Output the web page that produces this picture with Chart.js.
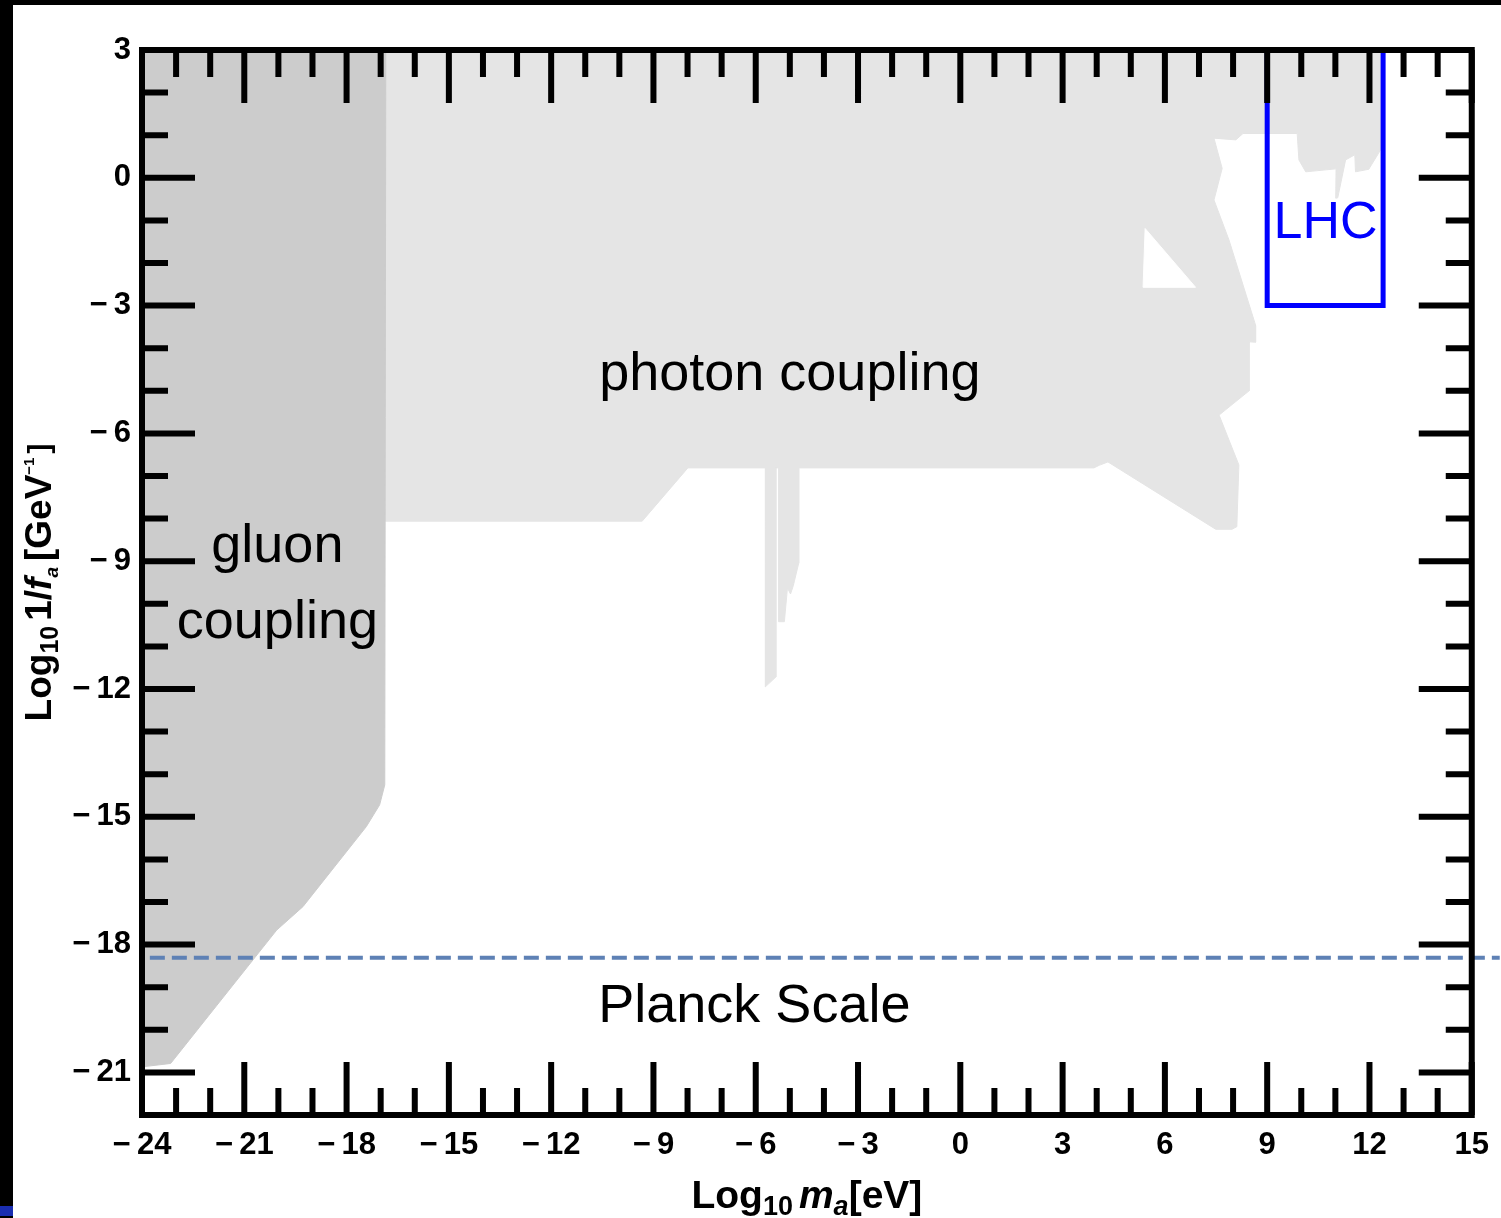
<!DOCTYPE html>
<html>
<head>
<meta charset="utf-8">
<script src="https://cdn.jsdelivr.net/npm/chart.js@4/dist/chart.umd.min.js"></script>
<style>
  html, body { margin: 0; padding: 0; background: #fff; }
  #wrap { position: relative; width: 1501px; height: 1218px; overflow: hidden; background: #fff; }
  #c { position: absolute; left: 0; top: 0; }
  .band { position: absolute; background: #000; }
  #topband { left: 0; top: 0; width: 1501px; height: 5px; }
  #leftband { left: 0; top: 0; width: 13px; height: 1218px; }
  #corner { position: absolute; left: 0; top: 1206px; width: 13px; height: 10px; background: #1a2db0; }
</style>
</head>
<body>
<div id="wrap">
  <canvas id="c" width="1501" height="1218"></canvas>
  <div class="band" id="topband"></div>
  <div class="band" id="leftband"></div>
  <div id="corner"></div>
</div>
<script>
// Axis ranges (log10 m_a [eV] horizontally, log10 1/f_a [GeV^-1] vertically)
const xRange = [-24, 15];
const yRange = [-22, 3];
const xLabelValues = [-24, -21, -18, -15, -12, -9, -6, -3, 0, 3, 6, 9, 12, 15];
const yLabelValues = [3, 0, -3, -6, -9, -12, -15, -18, -21];

// Gluon-coupling bound
const gluonX = [-24, -16.85, -16.88, -17.03, -17.42, -19.28, -20.05, -23.16, -24, -24];
const gluonY = [3, 3, -14.25, -14.72, -15.23, -17.11, -17.66, -20.79, -20.87, 3];

// Photon-coupling bounds (outer envelope)
const photonX = [-16.9, 12.4, 12.4, 12.27, 11.98, 11.59, 11.57, 11.30, 11.07, 11.01, 11.02, 10.13, 9.93, 9.88,
  8.29, 8.08, 7.44, 7.68, 7.44, 7.88, 8.66, 8.66, 8.47, 8.47, 7.59, 8.17, 8.11, 7.97, 7.49, 4.33, 4.07, 3.92,
  -4.74, -4.74, -4.90, -4.98, -5.07, -5.16, -5.33, -5.33, -5.41, -5.41, -5.72, -5.72, -7.99, -9.33, -16.9, -16.9];
const photonY = [3, 3, 0.77, 0.58, 0.20, 0.14, 0.54, 0.42, -0.47, -0.48, 0.21, 0.14, 0.42, 1.04,
  1.04, 0.89, 0.93, 0.22, -0.52, -1.46, -3.46, -3.86, -3.85, -5.00, -5.57, -6.74, -8.19, -8.25, -8.25, -6.67, -6.75, -6.81,
  -6.81, -9.05, -9.58, -9.77, -9.63, -10.42, -10.42, -6.81, -6.81, -11.72, -11.95, -6.81, -6.81, -8.06, -8.06, 3];

// Unconstrained window inside the photon bounds
const holeX = [5.42, 6.90, 5.36, 5.42];
const holeY = [-1.19, -2.57, -2.57, -1.19];

// LHC reach
const lhcX = [9, 9, 12.4, 12.4];
const lhcY = [3, -3, -3, 3];

// Planck scale
const planckX = [-23.77, 15.82];
const planckY = [-18.31, -18.31];

// Region labels
const annTexts = ['photon coupling', 'gluon', 'coupling', 'Planck Scale', 'LHC'];
const annX = [-5.0, -20.03, -20.03, -6.04, 10.71];
const annY = [-4.98, -9.01, -10.81, -19.82, -1.42];
const annColors = ['#000', '#000', '#000', '#000', '#0000ff'];
const annSizes = [54, 54, 54, 54, 52];

const FONT = '"Liberation Sans", Arial, Helvetica, sans-serif';

function pts(xs, ys) { return xs.map((x, i) => ({ x: x, y: ys[i] })); }
function fmt(v) { return v < 0 ? '\u2212\u2009' + Math.abs(v) : String(v); }

// Frame with inward ticks on all four sides
const frameAndTicks = {
  id: 'frameAndTicks',
  afterDatasetsDraw(chart) {
    const { ctx, chartArea: a, scales: { x, y } } = chart;
    ctx.save();
    ctx.strokeStyle = '#000';
    ctx.lineWidth = 6;
    ctx.lineCap = 'butt';
    ctx.beginPath();
    x.ticks.forEach(t => {
      const px = x.getPixelForValue(t.value);
      const len = (t.value % 3 === 0) ? 53 : 27;
      ctx.moveTo(px, a.top); ctx.lineTo(px, a.top + len);
      ctx.moveTo(px, a.bottom); ctx.lineTo(px, a.bottom - len);
    });
    y.ticks.forEach(t => {
      const py = y.getPixelForValue(t.value);
      const len = (t.value % 3 === 0) ? 53 : 26;
      ctx.moveTo(a.left, py); ctx.lineTo(a.left + len, py);
      ctx.moveTo(a.right, py); ctx.lineTo(a.right - len, py);
    });
    ctx.stroke();
    ctx.lineJoin = 'miter';
    ctx.strokeRect(a.left, a.top, a.right - a.left, a.bottom - a.top);
    ctx.restore();
  }
};

function drawRuns(ctx, runs, cx, baseline) {
  let total = 0;
  runs.forEach(r => { ctx.font = r.font; r.w = ctx.measureText(r.text).width + (r.gap || 0); total += r.w; });
  let x = cx - total / 2;
  runs.forEach(r => {
    ctx.font = r.font;
    ctx.fillText(r.text, x, baseline + (r.dy || 0));
    x += r.w;
  });
}

// Region labels and axis titles
const textLayer = {
  id: 'textLayer',
  afterDraw(chart) {
    const { ctx, chartArea: a, scales: { x, y } } = chart;
    ctx.save();
    ctx.textAlign = 'center';
    ctx.textBaseline = 'alphabetic';
    annTexts.forEach((t, i) => {
      ctx.font = annSizes[i] + 'px ' + FONT;
      ctx.fillStyle = annColors[i];
      ctx.fillText(t, x.getPixelForValue(annX[i]), y.getPixelForValue(annY[i]));
    });

    ctx.fillStyle = '#000';
    ctx.textAlign = 'left';
    const B = 'bold 39px ' + FONT, BS = 'bold 27px ' + FONT;
    const BI = 'italic bold 39px ' + FONT, BIS = 'italic bold 27px ' + FONT;
    drawRuns(ctx, [
      { text: 'Log', font: B }, { text: '10', font: BS, dy: 7, gap: 6 },
      { text: 'm', font: BI }, { text: 'a', font: BIS, dy: 7 }, { text: '[eV]', font: B }
    ], (a.left + a.right) / 2, 1208);

    const YB = 'bold 37px ' + FONT, YBS = 'bold 25px ' + FONT, YBI = 'italic bold 37px ' + FONT;
    ctx.translate(51, (a.top + a.bottom) / 2);
    ctx.rotate(-Math.PI / 2);
    drawRuns(ctx, [
      { text: 'Log', font: YB }, { text: '10', font: YBS, dy: 7, gap: 5 }, { text: '1/', font: YB },
      { text: 'f', font: YBI }, { text: 'a', font: 'italic bold 19px ' + FONT, dy: 7, gap: 6 },
      { text: '[GeV', font: YB }, { text: '\u22121', font: 'bold 15px ' + FONT, dy: -17, gap: 4 },
      { text: ']', font: 'bold 30px ' + FONT, dy: -2 }
    ], 0, 0);
    ctx.restore();
  }
};

const tickFont = { family: FONT, size: 31, weight: 'bold' };

new Chart(document.getElementById('c'), {
  type: 'line',
  data: {
    datasets: [
      { label: 'LHC', data: pts(lhcX, lhcY), borderColor: '#0000ff', borderWidth: 5,
        fill: false, order: 1, clip: false, borderJoinStyle: 'miter' },
      { label: 'Planck scale', data: pts(planckX, planckY), borderColor: 'rgb(94,129,181)', borderWidth: 4,
        borderDash: [15, 7], fill: false, order: 2, clip: false },
      { label: 'window', data: pts(holeX, holeY), borderColor: '#ffffff', backgroundColor: '#ffffff',
        borderWidth: 1, fill: 'shape', order: 3 },
      { label: 'gluon coupling', data: pts(gluonX, gluonY), borderColor: '#cccccc', backgroundColor: '#cccccc',
        borderWidth: 1, fill: 'shape', order: 4 },
      { label: 'photon coupling', data: pts(photonX, photonY), borderColor: '#e5e5e5', backgroundColor: '#e5e5e5',
        borderWidth: 1, fill: 'shape', order: 5 }
    ]
  },
  options: {
    responsive: false,
    animation: false,
    devicePixelRatio: 1,
    events: [],
    layout: { padding: { top: 50, right: 28, left: 0, bottom: 0 } },
    elements: { point: { radius: 0, hoverRadius: 0 }, line: { tension: 0 } },
    plugins: { legend: { display: false }, tooltip: { enabled: false } },
    scales: {
      x: {
        type: 'linear', min: xRange[0], max: xRange[1],
        afterFit: s => { s.height = 103; },
        grid: { display: false, drawTicks: false },
        border: { display: false },
        ticks: { stepSize: 1, autoSkip: false, maxRotation: 0, minRotation: 0, padding: 12,
          font: tickFont, color: '#000',
          callback: v => xLabelValues.includes(v) ? fmt(v) : '' }
      },
      y: {
        type: 'linear', min: yRange[0], max: yRange[1],
        afterFit: s => { s.width = 142; },
        grid: { display: false, drawTicks: false },
        border: { display: false },
        ticks: { stepSize: 1, autoSkip: false, padding: 11,
          font: tickFont, color: '#000',
          callback: v => yLabelValues.includes(v) ? fmt(v) : '' }
      }
    }
  },
  plugins: [frameAndTicks, textLayer]
});
</script>
</body>
</html>
